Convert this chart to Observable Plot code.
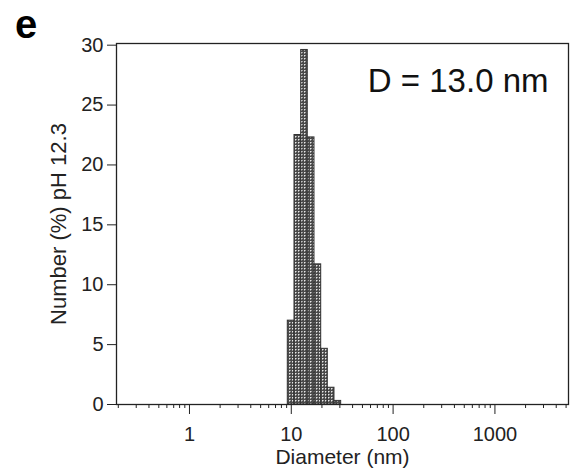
<!DOCTYPE html>
<html><head><meta charset="utf-8">
<script src="https://cdn.jsdelivr.net/npm/d3@7"></script>
<script src="https://cdn.jsdelivr.net/npm/@observablehq/plot@0.6"></script>
<style>body{margin:0;background:#fff}</style>
</head><body><div id="chart"></div>
<script>
const binEdges = [9.24, 10.75, 12.51, 14.52, 16.9, 19.67, 22.83, 26.56, 30.9];
const numberPct = [7.0, 22.5, 29.6, 22.3, 11.7, 4.65, 1.4, 0.3];
const yTicks = [0, 5, 10, 15, 20, 25, 30];
const xMajorTicks = [1, 10, 100, 1000];
const xMinorTicks = [0.2, 0.3, 0.4, 0.5, 0.6, 0.7, 0.8, 0.9,
  2, 3, 4, 5, 6, 7, 8, 9,
  20, 30, 40, 50, 60, 70, 80, 90,
  200, 300, 400, 500, 600, 700, 800, 900,
  2000, 3000, 4000, 5000];
const annotation = "D = 13.0 nm";
const panelLetter = "e";
const xLabel = "Diameter (nm)";
const yLabel = "Number (%) pH 12.3";

const bars = numberPct.map((v, i) => ({x1: binEdges[i], x2: binEdges[i + 1], y: v}));

const ink = "#222";
const plot = Plot.plot({
  width: 571,
  height: 469,
  marginLeft: 116,
  marginRight: 3,
  marginTop: 43,
  marginBottom: 65,
  style: {fontFamily: "'Liberation Sans', Arial, sans-serif", background: "#fff", color: ink},
  x: {type: "log", domain: [0.192, 5280]},
  y: {domain: [0, 30.14]},
  marks: [
    Plot.rectY(bars, {x1: "x1", x2: "x2", y: "y", fill: "url(#hatch)", stroke: "#333", strokeWidth: 1}),
    Plot.frame({stroke: ink, strokeWidth: 1.3}),
    Plot.axisY({ticks: yTicks, tickSize: 9, tickPadding: 4,
      label: yLabel, labelAnchor: "center", labelArrow: "none", labelOffset: 66}),
    Plot.axisX({ticks: xMinorTicks, tickSize: 4, tickFormat: () => "", label: null}),
    Plot.axisX({ticks: xMajorTicks, tickSize: 10, tickPadding: 12, tickFormat: d => String(d),
      label: xLabel, labelAnchor: "center", labelArrow: "none", labelOffset: 59}),
    Plot.text([annotation], {text: d => d, frameAnchor: "top-right", dx: -20, dy: 38, fontSize: 33, textAnchor: "end", lineAnchor: "middle", fill: "#111"})
  ]
});

const svg = d3.select(plot);
const defs = svg.insert("defs", ":first-child");
const pat = defs.append("pattern").attr("id", "hatch").attr("patternUnits", "userSpaceOnUse")
  .attr("width", 3).attr("height", 3);
pat.append("rect").attr("width", 3).attr("height", 3).attr("fill", "#4a4a4a");
pat.append("rect").attr("x", 1).attr("y", 1).attr("width", 1).attr("height", 1).attr("fill", "#e6e6e6");
pat.append("rect").attr("x", 2).attr("y", 1).attr("width", 1).attr("height", 1).attr("fill", "#9a9a9a");
pat.append("rect").attr("x", 1).attr("y", 2).attr("width", 1).attr("height", 1).attr("fill", "#9a9a9a");
svg.selectAll("g[aria-label$='tick label'] text").style("font-size", "20px");
svg.selectAll("g[aria-label$='tick label']").style("font-size", "20px");
svg.selectAll("g[aria-label='y-axis label'], g[aria-label='y-axis label'] text").style("font-size", "22px");
svg.selectAll("g[aria-label='x-axis label'], g[aria-label='x-axis label'] text").style("font-size", "21px");
svg.append("text").text(panelLetter).attr("x", 15).attr("y", 37.5)
  .attr("text-anchor", "start")
  .attr("font-size", 40).attr("font-weight", "bold").attr("fill", "#000")
  .attr("font-family", "'Liberation Sans', Arial, sans-serif");

document.getElementById("chart").appendChild(plot);
</script>
</body></html>
